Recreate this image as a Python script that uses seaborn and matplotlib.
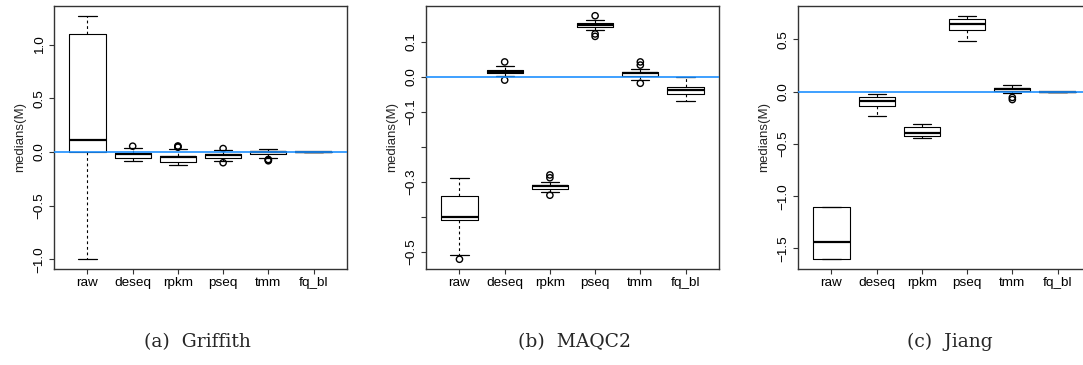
import numpy as np
import pandas as pd
import matplotlib
matplotlib.use("Agg")
import matplotlib.pyplot as plt
import seaborn as sns

methods = ["raw", "deseq", "rpkm", "pseq", "tmm", "fq_bl"]
captions = ["(a)  Griffith", "(b)  MAQC2", "(c)  Jiang"]

# ---- (a) Griffith ----
griffith_whislo = [-1.000, -0.080, -0.125, -0.087, -0.060, 0.0]
griffith_q1     = [0.000, -0.055, -0.095, -0.056, -0.022, 0.0]
griffith_median = [0.110, -0.018, -0.045, -0.030, -0.004, 0.0]
griffith_q3     = [1.100, -0.008, -0.038, -0.015, 0.010, 0.0]
griffith_whishi = [1.270, 0.040, 0.028, 0.016, 0.032, 0.0]
griffith_out_method = ["deseq", "rpkm", "rpkm", "rpkm", "pseq", "pseq", "tmm", "tmm", "tmm"]
griffith_out_value = [0.054, 0.045, 0.050, 0.056, 0.032, -0.100, -0.070, -0.076, -0.082]

# ---- (b) MAQC2 ----
maqc2_whislo = [-0.511, 0.001, -0.330, 0.133, -0.009, -0.069]
maqc2_q1     = [-0.411, 0.009, -0.322, 0.141, 0.002, -0.050]
maqc2_median = [-0.402, 0.014, -0.314, 0.147, 0.010, -0.038]
maqc2_q3     = [-0.341, 0.020, -0.309, 0.152, 0.013, -0.030]
maqc2_whishi = [-0.290, 0.031, -0.301, 0.162, 0.021, 0.000]
maqc2_out_method = ["raw", "deseq", "deseq", "rpkm", "rpkm", "rpkm",
                    "pseq", "pseq", "pseq", "tmm", "tmm", "tmm"]
maqc2_out_value = [-0.522, 0.042, -0.010, -0.281, -0.289, -0.339,
                   0.174, 0.122, 0.115, 0.033, 0.042, -0.019]

# ---- (c) Jiang ----
jiang_whislo = [-1.603, -0.228, -0.440, 0.481, -0.010, 0.0]
jiang_q1     = [-1.603, -0.132, -0.420, 0.589, 0.003, 0.0]
jiang_median = [-1.442, -0.090, -0.398, 0.647, 0.022, 0.0]
jiang_q3     = [-1.100, -0.052, -0.340, 0.695, 0.038, 0.0]
jiang_whishi = [-1.100, -0.023, -0.311, 0.727, 0.061, 0.0]
jiang_out_method = ["tmm", "tmm"]
jiang_out_value = [-0.055, -0.075]

yticks_a = [-1.0, -0.5, 0.0, 0.5, 1.0]
yticks_b = [-0.5, -0.4, -0.3, -0.2, -0.1, 0.0, 0.1]
yticks_c = [-1.5, -1.0, -0.5, 0.0, 0.5]
yticks_b_shown = [-0.5, -0.3, -0.1, 0.0, 0.1]

panels = [
    (griffith_whislo, griffith_q1, griffith_median, griffith_q3, griffith_whishi,
     griffith_out_method, griffith_out_value, yticks_a, yticks_a),
    (maqc2_whislo, maqc2_q1, maqc2_median, maqc2_q3, maqc2_whishi,
     maqc2_out_method, maqc2_out_value, yticks_b, yticks_b_shown),
    (jiang_whislo, jiang_q1, jiang_median, jiang_q3, jiang_whishi,
     jiang_out_method, jiang_out_value, yticks_c, yticks_c),
]

sns.set_style("white")
plt.rcParams["font.family"] = ["Liberation Sans", "DejaVu Sans"]

W, H = 1083, 365
fig = plt.figure(figsize=(W / 100, H / 100), dpi=100)

ax_lefts = [54, 426, 798]
ax_w, ax_bottom, ax_top = 293, 269, 6
cap_x = [197, 575, 950]

frame_col = "#333333"

for i, (wlo, q1, med, q3, whi, om, ov, yt, yshown) in enumerate(panels):
    ax = fig.add_axes([ax_lefts[i] / W, (H - ax_bottom) / H, ax_w / W, (ax_bottom - ax_top) / H])
    rows = []
    for j, m in enumerate(methods):
        for v in (wlo[j], q1[j], med[j], q3[j], whi[j]):
            rows.append((m, v))
    df = pd.DataFrame(rows, columns=["method", "value"])
    sns.boxplot(data=df, x="method", y="value", order=methods, ax=ax,
                width=0.8, whis=(0, 100), showfliers=False, fill=False,
                color="black", linewidth=0.8,
                whiskerprops=dict(linestyle=(0, (2.5, 2.5)), linewidth=0.8),
                capprops=dict(linewidth=0.9),
                medianprops=dict(linewidth=1.6))
    odf = pd.DataFrame({"method": om, "value": ov})
    n_before = len(ax.collections)
    sns.stripplot(data=odf, x="method", y="value", order=methods, ax=ax,
                  jitter=False, size=4.5, color="black", edgecolor="black",
                  linewidth=1.0)
    for coll in ax.collections[n_before:]:
        coll.set_facecolor("none")
        coll.set_edgecolor("black")
        coll.set_linewidth(1.0)
        coll.set_zorder(4)
    ax.axhline(0, color="#1E90FF", lw=1.2, zorder=6)

    allv = list(wlo) + list(whi) + list(ov)
    lo, hi = min(allv), max(allv)
    pad = 0.04 * (hi - lo)
    ax.set_ylim(lo - pad, hi + pad)
    ax.set_xlim(-0.74, len(methods) - 1 + 0.74)

    ax.set_yticks(yt)
    ax.set_yticklabels([("%.1f" % t).replace("-", "\u2212") if t in yshown else "" for t in yt])
    for lab in ax.get_yticklabels():
        lab.set_rotation(90)
        lab.set_va("center")
    ax.set_xlabel("")
    ax.set_ylabel("medians(M)", fontsize=9.5, labelpad=5)
    ax.tick_params(axis="both", direction="out", length=3.6, width=0.8,
                   color=frame_col, labelsize=9.7, labelcolor="black")
    ax.tick_params(axis="x", pad=2.2)
    ax.tick_params(axis="y", pad=2.5)
    ax.tick_params(left=True, bottom=True)
    for sp in ax.spines.values():
        sp.set_visible(True)
        sp.set_color(frame_col)
        sp.set_linewidth(1.0)

    fig.text(cap_x[i] / W, 1 - 342 / H, captions[i], ha="center", va="center",
             fontsize=13.5, family="DejaVu Serif")

fig.savefig("out.png", dpi=100)
